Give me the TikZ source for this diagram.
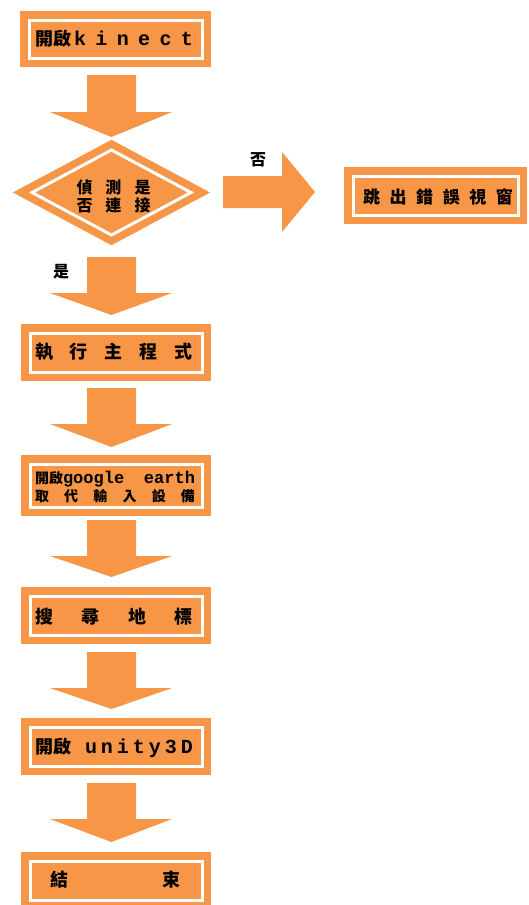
\documentclass[tikz,border=0pt]{standalone}
\usepackage{fontspec}
\usetikzlibrary{shapes.geometric}
\setmainfont{Liberation Mono}
\newfontfamily\cjkf{Noto Sans CJK TC}
\newfontfamily\latf{Liberation Mono}
\definecolor{og}{HTML}{F79646}
\newcommand\spr[2]{\makebox[#1][s]{#2}}
\newcommand\dnarr[4]{% name, top, headstart, tip
  \fill[og] (87,#2) -- (136,#2) -- (136,#3) -- (172,#3) -- (111.5,#4) -- (50,#3) -- (87,#3) -- cycle;
  \coordinate (#1) at (111.5,#4);}
\tikzset{
  obox/.style={rectangle, fill=og, draw=og, line width=7.5pt, double=white,
    double distance=3pt, inner sep=0pt, outer sep=0pt},
  odia/.style={diamond, fill=og, draw=og, line width=7.5pt, double=white,
    double distance=3pt, inner sep=0pt, outer sep=0pt, line join=miter},
  txt/.style={inner sep=0pt, font=\cjkf\bfseries\fontsize{18pt}{20pt}\selectfont},
  lbl/.style={inner sep=0pt, font=\cjkf\bfseries\fontsize{16pt}{18pt}\selectfont}
}
\begin{document}
\begin{tikzpicture}[x=1pt,y=-1pt]
\useasboundingbox (0,0) rectangle (529,905);
\clip (0,0) rectangle (529,905);
% boxes
\node[obox, minimum width=173pt, minimum height=38pt] (b1) at (115.5,39) {};
\node[obox, minimum width=172pt, minimum height=39pt] (b3) at (116,352.5) {};
\node[obox, minimum width=172pt, minimum height=43pt] (b4) at (116,485.5) {};
\node[obox, minimum width=172pt, minimum height=39pt] (b5) at (116,615.5) {};
\node[obox, minimum width=172pt, minimum height=39pt] (b6) at (116,746.5) {};
\node[obox, minimum width=172pt, minimum height=39pt] (b7) at (116,880.5) {};
\node[obox, minimum width=165pt, minimum height=39pt] (err) at (435.5,195.5) {};
\node[odia, minimum width=159pt, minimum height=85pt] (dia) at (111.5,192.5) {};
% arrows
\dnarr{a1}{75}{112}{137}
\dnarr{a2}{257}{293}{315}
\dnarr{a3}{388}{424}{447}
\dnarr{a4}{520}{556}{577}
\dnarr{a5}{652}{688}{709}
\dnarr{a6}{783}{819}{842}
\fill[og] (223,176) -- (282,176) -- (282,152) -- (315,192) -- (282,232) -- (282,208) -- (223,208) -- cycle;
% texts
\node[txt] (t1) at (114,39) {\spr{158pt}{開啟\hspace{3pt}\latf\fontsize{20pt}{22pt}\selectfont k\hfill i\hfill n\hfill e\hfill c\hfill t}};
\node[txt, font=\cjkf\bfseries\fontsize{16pt}{18pt}\selectfont] (td1) at (113.5,187) {\spr{74pt}{偵\hfill 測\hfill 是}};
\node[txt, font=\cjkf\bfseries\fontsize{16pt}{18pt}\selectfont] (td2) at (113.5,205) {\spr{74pt}{否\hfill 連\hfill 接}};
\node[txt, font=\cjkf\bfseries\fontsize{17pt}{19pt}\selectfont] (terr) at (438,197) {\spr{150pt}{跳\hfill 出\hfill 錯\hfill 誤\hfill 視\hfill 窗}};
\node[lbl] (no) at (258,160) {否};
\node[lbl] (yes) at (61,272) {是};
\node[txt] (t3) at (114,352) {\spr{158pt}{執\hfill 行\hfill 主\hfill 程\hfill 式}};
\node[txt, font=\cjkf\bfseries\fontsize{14pt}{16pt}\selectfont] (t4a) at (115,479) {\spr{160pt}{開啟\latf\fontsize{17pt}{19pt}\selectfont google\hfill earth}};
\node[txt, font=\cjkf\bfseries\fontsize{14pt}{16pt}\selectfont] (t4b) at (115,496) {\spr{160pt}{取\hfill 代\hfill 輸\hfill 入\hfill 設\hfill 備}};
\node[txt] (t5) at (114,617) {\spr{158pt}{搜\hfill 尋\hfill 地\hfill 標}};
\node[txt] (t6) at (114,748) {\spr{158pt}{開啟\hspace{14pt}\latf\fontsize{20pt}{22pt}\selectfont u\hfill n\hfill i\hfill t\hfill y\hfill 3\hfill D}};
\node[txt] (t7) at (115,880) {\spr{130pt}{結\hfill 束}};
\end{tikzpicture}
\end{document}
